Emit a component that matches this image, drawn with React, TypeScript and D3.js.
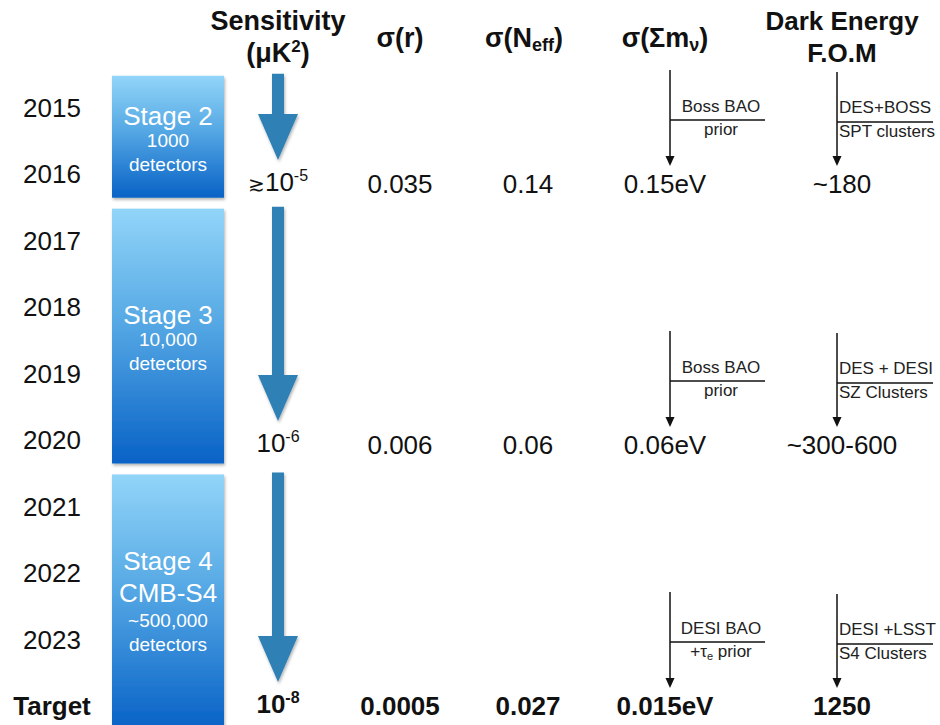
import React from "react";
import * as d3 from "d3";

const W = 940;
const H = 725;

// ---- data ----
const rowLabels = ["2015", "2016", "2017", "2018", "2019", "2020", "2021", "2022", "2023", "Target"];
const columnKeys = ["year", "stage", "sens", "r", "neff", "mnu", "fom"];

const stageNames = ["Stage 2", "Stage 3", "Stage 4"];
const stageSubtitles = ["", "", "CMB-S4"];
const stageDetectors = ["1000", "10,000", "~500,000"];
const stageStart = ["2015", "2017", "2021"];
const stageEnd = ["2016", "2020", "Target"];

const valueRows = ["2016", "2020", "Target"];
const sensPrefix = ["≳", "", ""];
const sensBase = ["10", "10", "10"];
const sensExponent = ["-5", "-6", "-8"];
const sigmaR = ["0.035", "0.006", "0.0005"];
const sigmaNeff = ["0.14", "0.06", "0.027"];
const sigmaMnu = ["0.15eV", "0.06eV", "0.015eV"];
const fomValues = ["~180", "~300-600", "1250"];

const mnuPriorTop = ["Boss BAO", "Boss BAO", "DESI BAO"];
const mnuPriorBottom = ["prior", "prior", "+τ|e| prior"];
const fomPriorTop = ["DES+BOSS", "DES + DESI", "DESI +LSST"];
const fomPriorBottom = ["SPT clusters", "SZ Clusters", "S4 Clusters"];

// ---- scales ----
const yRow = d3.scalePoint<string>().domain(rowLabels).range([108, 706]);
const yGroup = d3.scalePoint<string>().domain(valueRows).range([176, 698]);
const xCol = d3.scaleOrdinal<string, number>().domain(columnKeys).range([52, 168, 278, 400, 528, 665, 842]);

const FONT = "'Liberation Sans', Arial, Helvetica, sans-serif";
const ARROW = "#2f80b5";

function withSub(text: string, size: number) {
  // "a|b|c" -> a, subscript b, c
  const parts = text.split("|");
  if (parts.length === 1) return text;
  return (
    <>
      {parts[0]}
      <tspan fontSize={size * 0.65} dy={size * 0.2}>{parts[1]}</tspan>
      <tspan dy={-size * 0.2}>{parts[2]}</tspan>
    </>
  );
}

export default function App() {
  const step = yRow.step();
  const boxW = 112;

  return (
    <svg width={W} height={H} style={{ position: "absolute", left: 0, top: 0, background: "#fff" }} fontFamily={FONT}>
      <defs>
        <linearGradient id="stageGrad" x1="0" y1="0" x2="0" y2="1">
          <stop offset="0%" stopColor="#92d5f9" />
          <stop offset="45%" stopColor="#55a8e4" />
          <stop offset="100%" stopColor="#0862c6" />
        </linearGradient>
        <filter id="shadow" x="-10%" y="-10%" width="130%" height="130%">
          <feDropShadow dx="1" dy="2" stdDeviation="1.5" floodColor="#000" floodOpacity="0.3" />
        </filter>
      </defs>

      {/* Headers */}
      <g fontWeight="bold" fontSize={27} fill="#111" textAnchor="middle">
        <text x={xCol("sens")} y={30}>Sensitivity</text>
        <text x={xCol("sens")} y={62}>
          (μK<tspan fontSize={17} dy={-10}>2</tspan><tspan dy={10}>)</tspan>
        </text>
        <text x={xCol("r")} y={47}>σ(r)</text>
        <text x={xCol("neff") - 4} y={47}>
          σ(N<tspan fontSize={18} dy={4}>eff</tspan><tspan dy={-4}>)</tspan>
        </text>
        <text x={xCol("mnu")} y={47}>
          σ(Σm<tspan fontSize={18} dy={4}>ν</tspan><tspan dy={-4}>)</tspan>
        </text>
        <text x={xCol("fom")} y={30} fontSize={26}>Dark Energy</text>
        <text x={xCol("fom")} y={62} fontSize={26}>F.O.M</text>
      </g>

      {/* Row labels */}
      <g fontSize={26} fill="#111" textAnchor="middle">
        {rowLabels.map((r) => (
          <text key={r} x={xCol("year")} y={(yRow(r) as number) + 9} fontWeight={r === "Target" ? "bold" : "normal"}>
            {r}
          </text>
        ))}
      </g>

      {/* Stage boxes */}
      {stageNames.map((name, i) => {
        const top = (yRow(stageStart[i]) as number) - step / 2 + 1;
        const bottom = (yRow(stageEnd[i]) as number) + step * 0.35;
        const visBottom = Math.min(bottom, H);
        const cx = xCol("stage");
        const lines: { t: string; size: number; gap: number }[] = [{ t: name, size: 26, gap: 0 }];
        if (stageSubtitles[i]) lines.push({ t: stageSubtitles[i], size: 26, gap: 32 });
        lines.push({ t: stageDetectors[i], size: 19, gap: lines.length > 1 ? 25 : 22 });
        lines.push({ t: "detectors", size: 19, gap: 24 });
        const span = lines.reduce((s, l) => s + l.gap, 0);
        let yb = (top + visBottom) / 2 + 11 - span / 2;
        // arrow
        const tip = (yGroup(valueRows[i]) as number) - 16;
        const headStart = tip - 46;
        const ax = xCol("sens");
        const arrowTop = top - 2;
        const arrowPts: [number, number][] = [
          [ax - 6, arrowTop],
          [ax + 6, arrowTop],
          [ax + 6, headStart],
          [ax + 20, headStart],
          [ax, tip],
          [ax - 20, headStart],
          [ax - 6, headStart],
        ];
        return (
          <g key={name}>
            <rect x={cx - boxW / 2} y={top} width={boxW} height={bottom - top} fill="url(#stageGrad)" filter="url(#shadow)" />
            {lines.map((l, k) => {
              yb += l.gap;
              return (
                <text key={k} x={cx} y={yb} fill="#fff" fontSize={l.size} textAnchor="middle">
                  {l.t}
                </text>
              );
            })}
            <polygon points={arrowPts.map((p) => p.join(",")).join(" ")} fill={ARROW} filter="url(#shadow)" />
          </g>
        );
      })}

      {/* Values */}
      {valueRows.map((row, i) => {
        const yc = yGroup(row) as number;
        const yb = yc + 17;
        const bold = row === "Target";
        const fw = bold ? "bold" : "normal";
        // annotation geometry
        const lineTop = yc - 106;
        const hLine = yc - 56;
        const tip = yc - 10;
        const mx = xCol("mnu") + 5;
        const fx = xCol("fom") - 5;
        const arrowHead = (x: number) => `${x - 4.5},${tip - 10} ${x + 4.5},${tip - 10} ${x},${tip}`;
        return (
          <g key={row} fill="#111">
            <g fontSize={26} fontWeight={fw} textAnchor="middle">
              <text x={xCol("sens")} y={yb - 2}>
                {sensPrefix[i] ? <tspan fontSize={20}>{sensPrefix[i]}</tspan> : null}
                {sensBase[i]}
                <tspan fontSize={16} dy={-10}>{sensExponent[i]}</tspan>
              </text>
              <text x={xCol("r")} y={yb}>{sigmaR[i]}</text>
              <text x={xCol("neff")} y={yb}>{sigmaNeff[i]}</text>
              <text x={xCol("mnu")} y={yb}>{sigmaMnu[i]}</text>
              <text x={xCol("fom")} y={yb}>{fomValues[i]}</text>
            </g>

            {/* neutrino mass prior annotation */}
            <line x1={mx} y1={lineTop} x2={mx} y2={tip - 8} stroke="#111" strokeWidth={1.5} />
            <polygon points={arrowHead(mx)} fill="#111" />
            <line x1={mx} y1={hLine} x2={mx + 95} y2={hLine} stroke="#111" strokeWidth={1.5} />
            <g fontSize={17} textAnchor="middle" fill="#222">
              <text x={mx + 51} y={hLine - 8}>{mnuPriorTop[i]}</text>
              <text x={mx + 51} y={hLine + 15}>{withSub(mnuPriorBottom[i], 17)}</text>
            </g>

            {/* FOM annotation */}
            <line x1={fx} y1={lineTop + 2} x2={fx} y2={tip - 8} stroke="#111" strokeWidth={1.5} />
            <polygon points={arrowHead(fx)} fill="#111" />
            <line x1={fx} y1={hLine + 2} x2={fx + 96} y2={hLine + 2} stroke="#111" strokeWidth={1.5} />
            <g fontSize={17} textAnchor="start" fill="#222">
              <text x={fx + 2} y={hLine - 7}>{fomPriorTop[i]}</text>
              <text x={fx + 2} y={hLine + 17}>{fomPriorBottom[i]}</text>
            </g>
          </g>
        );
      })}
    </svg>
  );
}
